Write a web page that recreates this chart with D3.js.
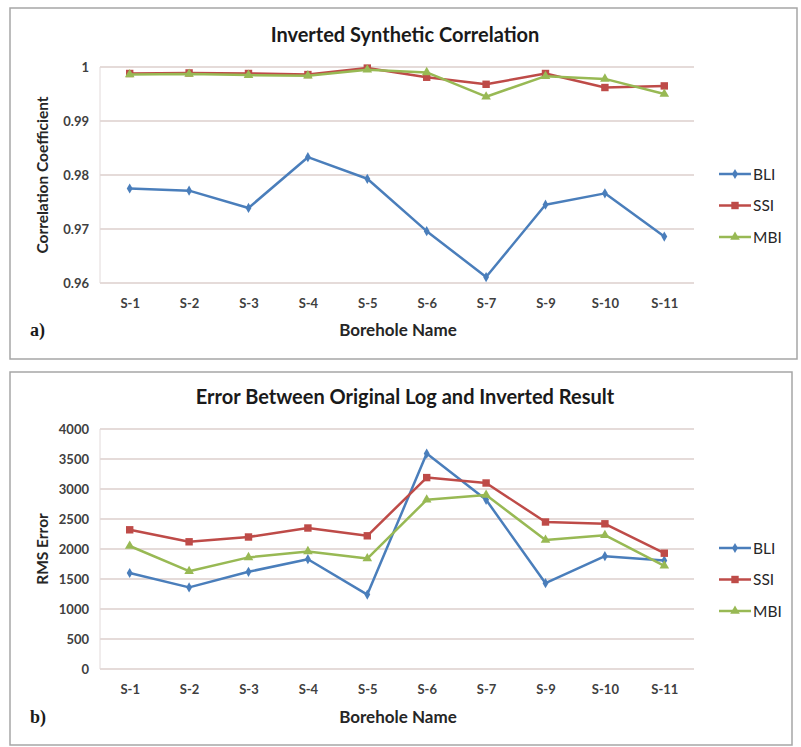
<!DOCTYPE html>
<html>
<head>
<meta charset="utf-8">
<script src="https://cdn.jsdelivr.net/npm/d3@7"></script>
<style>
  body { margin: 0; background: #fff; }
  text { font-family: Lato, "Open Sans", sans-serif; }
</style>
</head>
<body>
<svg id="chart" width="801" height="747"></svg>
<script>
const boreholes = ['S-1', 'S-2', 'S-3', 'S-4', 'S-5', 'S-6', 'S-7', 'S-9', 'S-10', 'S-11'];
const seriesNames = ['BLI', 'SSI', 'MBI'];

// panel a) correlation coefficient
const corrBLI = [0.9775, 0.9771, 0.9739, 0.9833, 0.9793, 0.9696, 0.9611, 0.9745, 0.9766, 0.9686];
const corrSSI = [0.9988, 0.9989, 0.9988, 0.9986, 0.9998, 0.9981, 0.9968, 0.9988, 0.9962, 0.9965];
const corrMBI = [0.9986, 0.9987, 0.9985, 0.9984, 0.9995, 0.9990, 0.9945, 0.9983, 0.9978, 0.9950];
const corrTicks = [0.96, 0.97, 0.98, 0.99, 1];

// panel b) RMS error
const rmsBLI = [1600, 1360, 1620, 1830, 1240, 3590, 2820, 1430, 1880, 1810];
const rmsSSI = [2320, 2120, 2200, 2350, 2220, 3190, 3100, 2450, 2420, 1930];
const rmsMBI = [2050, 1630, 1860, 1960, 1840, 2820, 2900, 2150, 2230, 1720];
const rmsTicks = [0, 500, 1000, 1500, 2000, 2500, 3000, 3500, 4000];

const colors = { BLI: '#4a7ebb', SSI: '#be4b48', MBI: '#98b954' };
const symbols = { BLI: d3.symbolDiamond, SSI: d3.symbolSquare, MBI: d3.symbolTriangle };
const symSize = { BLI: 30, SSI: 55, MBI: 40 };

const svg = d3.select('#chart');

function drawPanel(opts) {
    const g = svg.append('g');

    g.append('rect')
        .attr('x', opts.box[0]).attr('y', opts.box[1])
        .attr('width', opts.box[2]).attr('height', opts.box[3])
        .attr('fill', '#fff')
        .attr('stroke', '#a6a6a6')
        .attr('stroke-width', 1.5);

    const x = d3.scalePoint().domain(boreholes).range([100, 694]).padding(0.5);
    const y = d3.scaleLinear().domain(opts.domain).range(opts.yRange);

    // gridlines
    g.append('g')
        .selectAll('line')
        .data(opts.ticks)
        .join('line')
        .attr('x1', 100).attr('x2', 694)
        .attr('y1', (d) => y(d)).attr('y2', (d) => y(d))
        .attr('stroke', '#dccfcd')
        .attr('stroke-width', 1.5);

    g.append('line')
        .attr('x1', 100).attr('x2', 100)
        .attr('y1', opts.yRange[1]).attr('y2', opts.yRange[0])
        .attr('stroke', '#e2dada');

    const yAxis = d3.axisLeft(y).tickValues(opts.ticks).tickFormat(opts.fmt).tickSize(0).tickPadding(11);
    g.append('g')
        .attr('transform', 'translate(100,0)')
        .call(yAxis)
        .call((s) => s.select('.domain').remove())
        .selectAll('text')
        .attr('font-size', 13)
        .attr('font-weight', 700)
        .attr('fill', '#404040')
        .style('font-family', 'Lato, sans-serif');

    const xAxis = d3.axisBottom(x).tickSize(0).tickPadding(16);
    g.append('g')
        .attr('transform', `translate(0,${opts.yRange[0]})`)
        .call(xAxis)
        .call((s) => s.select('.domain').remove())
        .selectAll('text')
        .attr('font-size', 13)
        .attr('font-weight', 700)
        .attr('fill', '#404040')
        .style('font-family', 'Lato, sans-serif');

    // series
    const line = d3.line().x((d, i) => x(boreholes[i])).y((d) => y(d));
    opts.series.forEach((vals, k) => {
        const name = seriesNames[k];
        g.append('path')
            .datum(vals)
            .attr('d', line)
            .attr('fill', 'none')
            .attr('stroke', colors[name])
            .attr('stroke-width', 2.5)
            .attr('stroke-linejoin', 'round');
        g.append('g')
            .selectAll('path')
            .data(vals)
            .join('path')
            .attr('transform', (d, i) => `translate(${x(boreholes[i])},${y(d)})`)
            .attr('d', d3.symbol().type(symbols[name]).size(symSize[name]))
            .attr('fill', colors[name]);
    });

    // titles
    g.append('text')
        .attr('x', 405).attr('y', opts.titleY)
        .attr('text-anchor', 'middle')
        .attr('font-size', 20)
        .attr('font-weight', 700)
        .attr('fill', '#1a1a1a')
        .text(opts.title);

    g.append('text')
        .attr('transform', `translate(${opts.yLabelX},${(opts.yRange[0] + opts.yRange[1]) / 2}) rotate(-90)`)
        .attr('text-anchor', 'middle')
        .attr('font-size', 15.5)
        .attr('font-weight', 700)
        .attr('fill', '#262626')
        .text(opts.yLabel);

    g.append('text')
        .attr('x', 398).attr('y', opts.xTitleY)
        .attr('text-anchor', 'middle')
        .attr('font-size', 17)
        .attr('font-weight', 700)
        .attr('fill', '#262626')
        .text('Borehole Name');

    g.append('text')
        .attr('x', 30).attr('y', opts.xTitleY)
        .attr('font-size', 18)
        .attr('font-weight', 700)
        .attr('fill', '#1a1a1a')
        .style('font-family', '"Liberation Serif", serif')
        .text(opts.tag);

    // legend
    seriesNames.forEach((name, k) => {
        const ly = opts.legendY + k * 31.5;
        g.append('line')
            .attr('x1', 719).attr('x2', 751)
            .attr('y1', ly).attr('y2', ly)
            .attr('stroke', colors[name])
            .attr('stroke-width', 2.5);
        g.append('path')
            .attr('transform', `translate(735,${ly})`)
            .attr('d', d3.symbol().type(symbols[name]).size(symSize[name]))
            .attr('fill', colors[name]);
        g.append('text')
            .attr('x', 753).attr('y', ly + 5.5)
            .attr('font-size', 15.5)
            .attr('fill', '#262626')
            .text(name);
    });
}

drawPanel({
    box: [10, 8, 787, 351],
    domain: [0.96, 1],
    yRange: [283, 67],
    ticks: corrTicks,
    fmt: (d) => (d === 1 ? '1' : d3.format('.2f')(d)),
    series: [corrBLI, corrSSI, corrMBI],
    title: 'Inverted Synthetic Correlation',
    titleY: 42,
    yLabel: 'Correlation Coefficient',
    yLabelX: 48,
    xTitleY: 336,
    tag: 'a)',
    legendY: 174
});

drawPanel({
    box: [10, 372, 782, 373],
    domain: [0, 4000],
    yRange: [669, 429],
    ticks: rmsTicks,
    fmt: d3.format('d'),
    series: [rmsBLI, rmsSSI, rmsMBI],
    title: 'Error Between Original Log and Inverted Result',
    titleY: 404,
    yLabel: 'RMS Error',
    yLabelX: 48,
    xTitleY: 723,
    tag: 'b)',
    legendY: 548
});
</script>
</body>
</html>
